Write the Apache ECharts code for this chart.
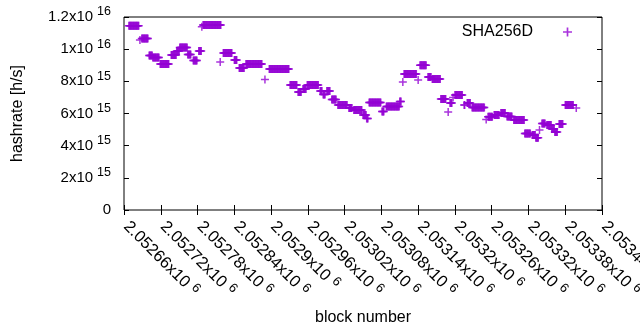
<!DOCTYPE html>
<html>
<head>
<meta charset="utf-8">
<script src="https://cdn.jsdelivr.net/npm/echarts@6/dist/echarts.min.js"></script>
<style>
  html, body { margin: 0; padding: 0; background: #fff; }
  #chart { width: 640px; height: 330px; }
</style>
</head>
<body>
<div id="chart"></div>
<script>
// runs of consecutive blocks that share the same hashrate estimate
const runStart = [2052668, 2052686, 2052689, 2052701, 2052707, 2052719, 2052737, 2052746, 2052751, 2052764,
  2052773, 2052782, 2052787, 2052789, 2052817, 2052822, 2052840, 2052848, 2052859, 2052890,
  2052897, 2052931, 2052944, 2052952, 2052959, 2052980, 2052985, 2052991, 2052999, 2053009,
  2053027, 2053035, 2053050, 2053056, 2053060, 2053081, 2053088, 2053110, 2053115, 2053117,
  2053140, 2053143, 2053156, 2053163, 2053177, 2053189, 2053192, 2053197, 2053200, 2053215,
  2053220, 2053228, 2053251, 2053254, 2053264, 2053275, 2053285, 2053296, 2053314, 2053326,
  2053332, 2053338, 2053342, 2053350, 2053358, 2053363, 2053370, 2053380, 2053398]
const runEnd = [2052684, 2052686, 2052699, 2052706, 2052717, 2052733, 2052745, 2052750, 2052763, 2052769,
  2052779, 2052786, 2052787, 2052818, 2052817, 2052836, 2052844, 2052856, 2052885, 2052890,
  2052929, 2052942, 2052949, 2052957, 2052977, 2052983, 2052988, 2052996, 2053006, 2053024,
  2053032, 2053048, 2053055, 2053058, 2053079, 2053084, 2053109, 2053112, 2053115, 2053137,
  2053140, 2053153, 2053161, 2053176, 2053185, 2053189, 2053195, 2053197, 2053212, 2053216,
  2053225, 2053248, 2053251, 2053261, 2053272, 2053282, 2053293, 2053313, 2053323, 2053331,
  2053336, 2053338, 2053347, 2053357, 2053362, 2053367, 2053376, 2053393, 2053398]
const runValue = [1.145e16, 1.057e16, 1.067e16, 9.6e15, 9.48e15, 9.08e15, 9.64e15, 9.89e15, 1.01e16, 9.67e15,
  9.3e15, 9.89e15, 1.14e16, 1.15e16, 9.2e15, 9.76e15, 9.33e15, 8.83e15, 9.08e15, 8.11e15,
  8.77e15, 7.77e15, 7.34e15, 7.52e15, 7.77e15, 7.4e15, 7.18e15, 7.4e15, 6.87e15, 6.53e15,
  6.34e15, 6.22e15, 5.9e15, 5.69e15, 6.68e15, 6.13e15, 6.43e15, 6.75e15, 7.96e15, 8.45e15,
  8.08e15, 9.0e15, 8.27e15, 8.14e15, 6.9e15, 6.1e15, 6.65e15, 7.0e15, 7.15e15, 6.53e15,
  6.65e15, 6.37e15, 5.63e15, 5.8e15, 5.9e15, 6.03e15, 5.81e15, 5.6e15, 4.76e15, 4.66e15,
  4.5e15, 4.97e15, 5.38e15, 5.28e15, 5.04e15, 4.85e15, 5.35e15, 6.53e15, 6.34e15]

const seriesName = 'SHA256D'
const xMin = 2052660, xMax = 2053440, xStep = 60
const yMin = 0, yMax = 1.2e16, yStep = 2e15

// one point per block
let points = []
for (var i = 0; i < runStart.length; i++) {
  for (var b = runStart[i]; b <= runEnd[i]; b++) {
    points.push([b, runValue[i]])
  }
}

const plus = 'path://M0,3.25H8V4.75H0Z M3.25,0H4.75V8H3.25Z'
const font = 'Liberation Sans'

// 1.2e16 -> 1.2x10^16
function sciLabel(v) {
  if (v === 0) return '{m|0}'
  let e = Math.floor(Math.log10(v) + 1e-9)
  let m = Number((v / Math.pow(10, e)).toFixed(4))
  return '{m|' + m + 'x10}{e|' + e + '}'
}

const richY = {
  m: { fontSize: 15, fontFamily: font, color: '#000' },
  e: { fontSize: 12.5, fontFamily: font, color: '#000', padding: [0, 0, 10, 4] },
}
const richX = {
  m: { fontSize: 16.5, fontFamily: font, color: '#000', padding: [0, 0, 0, 3] },
  e: { fontSize: 13, fontFamily: font, color: '#000', padding: [0, 0, 8, 5] },
}

var myChart = echarts.init(document.getElementById('chart'))
var option = {
  animation: false,
  textStyle: { fontFamily: font },
  grid: {
    left: 124, right: 38, top: 17, bottom: 120,
    outerBoundsMode: 'none',
    show: true, borderColor: '#000', borderWidth: 1,
  },
  legend: {
    right: 68, top: 24, padding: 0,
    align: 'right',
    itemWidth: 9, itemHeight: 9,
    data: [{ name: seriesName, icon: plus }],
    textStyle: { fontSize: 16, color: '#000', padding: [0, 25, 0, 0] },
  },
  xAxis: [
    {
      type: 'value', min: xMin, max: xMax, interval: xStep,
      name: 'block number', nameLocation: 'middle', nameGap: 100,
      nameTextStyle: { fontSize: 16, color: '#000' },
      axisLine: { show: false },
      axisTick: { inside: true, length: 5, lineStyle: { color: '#000' } },
      splitLine: { show: false },
      axisLabel: {
        rotate: -45, margin: 12, showMaxLabel: true,
        formatter: function (v) { return '{m|' + Number((v / 1e6).toFixed(5)) + 'x10}{e|6}' },
        rich: richX,
      },
    },
    {
      type: 'value', position: 'top', min: xMin, max: xMax, interval: xStep,
      axisLine: { show: false },
      axisTick: { inside: true, length: 5, lineStyle: { color: '#000' } },
      axisLabel: { show: false },
      splitLine: { show: false },
    },
  ],
  yAxis: [
    {
      type: 'value', min: yMin, max: yMax, interval: yStep,
      name: 'hashrate [h/s]', nameLocation: 'middle', nameGap: 98,
      nameTextStyle: { fontSize: 16, color: '#000' },
      axisLine: { show: false },
      axisTick: { inside: true, length: 5, lineStyle: { color: '#000' } },
      splitLine: { show: false },
      axisLabel: { margin: 13, formatter: sciLabel, rich: richY },
    },
    {
      type: 'value', position: 'right', min: yMin, max: yMax, interval: yStep,
      axisLine: { show: false },
      axisTick: { inside: true, length: 5, lineStyle: { color: '#000' } },
      axisLabel: { show: false },
      splitLine: { show: false },
    },
  ],
  series: [
    {
      name: seriesName,
      type: 'scatter',
      symbol: plus,
      symbolSize: 8,
      itemStyle: { color: '#9400d3' },
      data: points,
    },
  ],
}
myChart.setOption(option)
</script>
</body>
</html>
